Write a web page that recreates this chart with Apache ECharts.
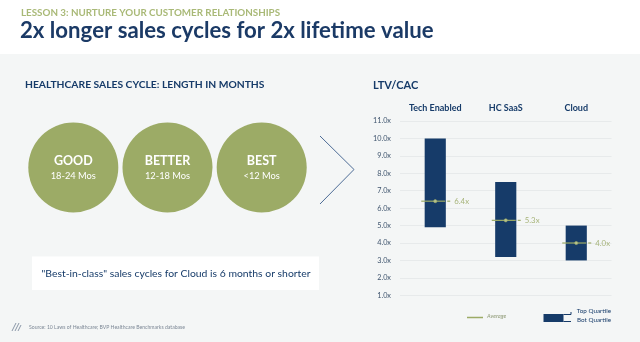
<!DOCTYPE html>
<html>
<head>
<meta charset="utf-8">
<script src="https://cdn.jsdelivr.net/npm/echarts@6/dist/echarts.min.js"></script>
<style>
  html, body { margin: 0; padding: 0; background: #f4f6f6; }
  #chart { width: 640px; height: 342px; }
</style>
</head>
<body>
<div id="chart"></div>
<script>
// LTV/CAC quartile ranges by segment
const categories = ['Tech Enabled', 'HC SaaS', 'Cloud'];
const topQuartile = [10.0, 7.5, 5.0];
const botQuartile = [4.9, 3.2, 3.0];
const averages = [6.4, 5.3, 4.0];
const yTicks = { min: 1, max: 11, step: 1 };

// Sales cycle tiers
const tiers = ['GOOD', 'BETTER', 'BEST'];
const tierRanges = ['18-24 Mos', '12-18 Mos', '<12 Mos'];

const NAVY = '#163b69';
const OLIVE = '#9cab66';
const FONT = 'Lato, "Open Sans", sans-serif';

const chart = echarts.init(document.getElementById('chart'), null, { renderer: 'canvas' });

chart.setOption({
  backgroundColor: '#f4f6f6',
  animation: false,
  textStyle: { fontFamily: FONT },
  grid: [
    { left: 400, right: 28.5, top: 121, bottom: 46.7 },
    { left: 26.2, width: 282.6, top: 120, height: 95 }
  ],
  xAxis: [
    {
      type: 'category', gridIndex: 0, data: categories, position: 'top',
      axisLine: { show: false }, axisTick: { show: false },
      axisLabel: { color: NAVY, fontSize: 9, fontWeight: 'bold', margin: 8, fontFamily: FONT }
    },
    {
      type: 'category', gridIndex: 1, data: tiers, show: false
    }
  ],
  yAxis: [
    {
      type: 'value', gridIndex: 0, min: yTicks.min, max: yTicks.max, interval: yTicks.step,
      axisLine: { show: false }, axisTick: { show: false },
      axisLabel: {
        color: '#41566f', fontSize: 7.3, margin: 9, fontFamily: FONT,
        formatter: v => v.toFixed(1) + 'x'
      },
      splitLine: { lineStyle: { color: '#e7eaeb', width: 1 } }
    },
    { type: 'value', gridIndex: 1, min: 0, max: 2, show: false }
  ],
  graphic: [
    { type: 'rect', shape: { x: 0, y: 0, width: 640, height: 54 }, style: { fill: '#ffffff' }, z: -10 },
    { type: 'text', left: 21, top: 8, style: { text: 'LESSON 3: NURTURE YOUR CUSTOMER RELATIONSHIPS', fill: '#a9b977', font: 'bold 9.8px ' + FONT } },
    { type: 'text', left: 20, top: 20, style: { text: '2x longer sales cycles for 2x lifetime value', fill: '#1b3a66', font: 'bold 22.2px ' + FONT } },
    { type: 'text', left: 25, top: 80, style: { text: 'HEALTHCARE SALES CYCLE: LENGTH IN MONTHS', fill: NAVY, font: 'bold 10.3px ' + FONT } },
    { type: 'polyline', shape: { points: [[320, 136], [354, 169.5], [320, 204]] }, style: { stroke: '#4d6c96', lineWidth: 1, fill: null } },
    { type: 'rect', shape: { x: 32, y: 256.5, width: 287, height: 33.5 }, style: { fill: '#ffffff' } },
    { type: 'text', x: 176, y: 273.5, style: { text: '"Best-in-class" sales cycles for Cloud is 6 months or shorter', fill: NAVY, font: '10.4px ' + FONT, textAlign: 'center', textVerticalAlign: 'middle' } },
    { type: 'text', left: 373, top: 80, style: { text: 'LTV/CAC', fill: NAVY, font: 'bold 11px ' + FONT } },
    // legend: average
    { type: 'line', shape: { x1: 467, y1: 317.5, x2: 483, y2: 317.5 }, style: { stroke: OLIVE, lineWidth: 1.5 } },
    { type: 'text', left: 487, top: 313.5, style: { text: 'Average', fill: '#8f9a76', font: 'italic 5.8px ' + FONT } },
    // legend: quartile range
    { type: 'rect', shape: { x: 543.5, y: 314, width: 20, height: 8 }, style: { fill: NAVY } },
    { type: 'polyline', shape: { points: [[563.5, 314.5], [571, 314.5], [571, 312]] }, style: { stroke: NAVY, lineWidth: 1, fill: null } },
    { type: 'polyline', shape: { points: [[563.5, 321.5], [571, 321.5]] }, style: { stroke: NAVY, lineWidth: 1, fill: null } },
    { type: 'text', right: 29, top: 308, style: { text: 'Top Quartile', fill: NAVY, font: '6.3px ' + FONT, textAlign: 'right' } },
    { type: 'text', right: 29, top: 317, style: { text: 'Bot Quartile', fill: NAVY, font: '6.3px ' + FONT, textAlign: 'right' } },
    // source footer
    { type: 'polyline', shape: { points: [[12, 331], [16, 323]] }, style: { stroke: '#8a97a8', lineWidth: 1 } },
    { type: 'polyline', shape: { points: [[15, 331], [19, 323]] }, style: { stroke: '#8a97a8', lineWidth: 1 } },
    { type: 'polyline', shape: { points: [[18, 331], [21, 325]] }, style: { stroke: '#8a97a8', lineWidth: 1 } },
    { type: 'text', left: 29, top: 324.5, style: { text: 'Source: 10 Laws of Healthcare; BVP Healthcare Benchmarks database', fill: '#7d8896', font: '5.1px ' + FONT } }
  ],
  series: [
    {
      // quartile range bars
      type: 'custom',
      xAxisIndex: 0, yAxisIndex: 0,
      data: categories.map((c, i) => [i, botQuartile[i], topQuartile[i]]),
      renderItem: (params, api) => {
        const lo = api.coord([api.value(0), api.value(1)]);
        const hi = api.coord([api.value(0), api.value(2)]);
        const w = api.size([1, 0])[0] * 0.3;
        return {
          type: 'rect',
          shape: { x: lo[0] - w / 2, y: hi[1], width: w, height: lo[1] - hi[1] },
          style: { fill: NAVY }
        };
      },
      z: 2
    },
    {
      // average markers
      type: 'custom',
      xAxisIndex: 0, yAxisIndex: 0,
      data: categories.map((c, i) => [i, averages[i]]),
      renderItem: (params, api) => {
        const p = api.coord([api.value(0), api.value(1)]);
        const label = api.value(1).toFixed(1) + 'x';
        return {
          type: 'group',
          children: [
            { type: 'line', shape: { x1: p[0] - 14, y1: p[1], x2: p[0] + 10, y2: p[1] }, style: { stroke: OLIVE, lineWidth: 1.2 } },
            { type: 'line', shape: { x1: p[0] + 12, y1: p[1], x2: p[0] + 15, y2: p[1] }, style: { stroke: OLIVE, lineWidth: 1.2 } },
            { type: 'circle', shape: { cx: p[0], cy: p[1], r: 1.6 }, style: { fill: '#b8c38e', stroke: OLIVE, lineWidth: 0.6 } },
            { type: 'text', x: p[0] + 19, y: p[1], style: { text: label, fill: '#a7b47a', font: '7.8px ' + FONT, textVerticalAlign: 'middle' } }
          ]
        };
      },
      z: 3
    },
    {
      // sales cycle tier circles
      type: 'scatter',
      xAxisIndex: 1, yAxisIndex: 1,
      data: tiers.map((t, i) => [i, 1]),
      symbol: 'circle',
      symbolSize: 90,
      itemStyle: { color: OLIVE, opacity: 1 },
      label: {
        show: true, position: 'inside',
        formatter: p => '{t|' + tiers[p.dataIndex] + '}\n{r|' + tierRanges[p.dataIndex] + '}',
        rich: {
          t: { color: '#ffffff', fontSize: 12.5, fontWeight: 'bold', fontFamily: FONT, lineHeight: 16 },
          r: { color: '#ffffff', fontSize: 9.3, fontFamily: FONT, lineHeight: 13 }
        }
      },
      emphasis: { disabled: true }
    }
  ]
});
</script>
</body>
</html>
